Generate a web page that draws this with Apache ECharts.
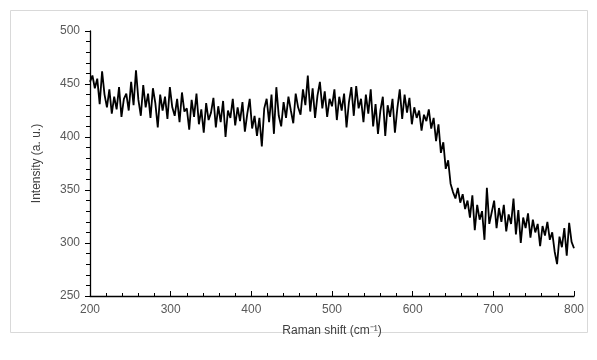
<!DOCTYPE html>
<html>
<head>
<meta charset="utf-8">
<script src="https://cdn.jsdelivr.net/npm/echarts@6/dist/echarts.min.js"></script>
<style>
  html, body { margin: 0; padding: 0; background: #fff; }
  #chart { width: 597px; height: 360px; }
</style>
</head>
<body>
<div id="chart"></div>
<script>
// Raman shift start / step (cm-1)
const shiftStart = 200;
const shiftStep = 3;

// intensity, 30 cm-1 per row
const intensity = [
  452, 458, 446, 455, 431, 462, 440, 428, 445, 422,
  438, 426, 447, 419, 436, 441, 425, 452, 430, 463,
  435, 420, 449, 428, 441, 418, 446, 432, 409, 440,
  425, 438, 417, 447, 428, 420, 436, 414, 442, 424,
  427, 407, 435, 419, 441, 412, 426, 404, 432, 416,
  423, 437, 409, 429, 414, 434, 400, 425, 418, 436,
  411, 428, 415, 433, 405, 422, 436, 408, 420, 401,
  418, 391, 427, 436, 414, 440, 403, 447, 420, 410,
  433, 418, 438, 425, 413, 441, 428, 421, 445, 430,
  458, 424, 446, 418, 439, 452, 427, 443, 419, 436,
  429, 445, 416, 438, 425, 441, 409, 433, 447, 420,
  448, 427, 436, 414, 440, 422, 445, 410, 431, 403,
  425, 438, 401, 430, 419, 436, 404, 427, 445, 417,
  440, 423, 437, 412, 428, 418, 425, 406, 421, 415,
  426, 408, 418, 396, 412, 385, 395, 370, 378, 356,
  348, 342, 352, 338, 346, 332, 340, 324, 345, 312,
  336, 322, 330, 303, 352, 318, 329, 340, 314, 333,
  320, 336, 311, 327, 318, 342, 308, 331, 300, 324,
  314, 328, 305, 322, 310, 318, 297, 316, 307, 320,
  303, 310, 292, 280, 306, 296, 314, 288, 319, 301,
  295
];

const xTicks = [200, 800, 100];
const yTicks = [250, 500, 50];

const chart = echarts.init(document.getElementById('chart'));
const seriesData = intensity.map((v, i) => [shiftStart + i * shiftStep, v]);
const labelColor = '#595959';
const font = 'Liberation Sans, Arial, sans-serif';

chart.setOption({
  animation: false,
  backgroundColor: '#fff',
  graphic: [{
    type: 'rect',
    shape: { x: 10.5, y: 10.5, width: 577, height: 322 },
    style: { fill: 'none', stroke: '#d9d9d9', lineWidth: 1 },
    silent: true
  }],
  grid: { left: 90, right: 23, top: 31, bottom: 64 },
  xAxis: {
    type: 'value',
    min: xTicks[0], max: xTicks[1], interval: xTicks[2],
    name: 'Raman shift (cm⁻¹)',
    nameLocation: 'middle', nameGap: 29,
    nameTextStyle: { color: '#404040', fontSize: 12, fontFamily: font },
    axisLine: { onZero: false, lineStyle: { color: '#000', width: 1.3 } },
    axisTick: { inside: true, length: 5, lineStyle: { color: '#000' } },
    minorTick: { show: true, splitNumber: 5, length: 3, lineStyle: { color: '#000' } },
    axisLabel: { color: labelColor, fontSize: 12, fontFamily: font, margin: 8 },
    splitLine: { show: false }
  },
  yAxis: {
    type: 'value',
    min: yTicks[0], max: yTicks[1], interval: yTicks[2],
    name: 'Intensity (a. u.)',
    nameLocation: 'middle', nameGap: 47, nameRotate: 90,
    nameTextStyle: { color: '#404040', fontSize: 12, fontFamily: font },
    axisLine: { show: true, onZero: false, lineStyle: { color: '#000', width: 1.3 } },
    axisTick: { show: true, length: 5, lineStyle: { color: '#000' } },
    minorTick: { show: true, splitNumber: 5, length: 4, lineStyle: { color: '#000' } },
    axisLabel: { color: labelColor, fontSize: 12, fontFamily: font, margin: 10 },
    splitLine: { show: false }
  },
  series: [{
    type: 'line',
    data: seriesData,
    showSymbol: false,
    lineStyle: { color: '#000', width: 1.8 }
  }]
});
</script>
</body>
</html>
